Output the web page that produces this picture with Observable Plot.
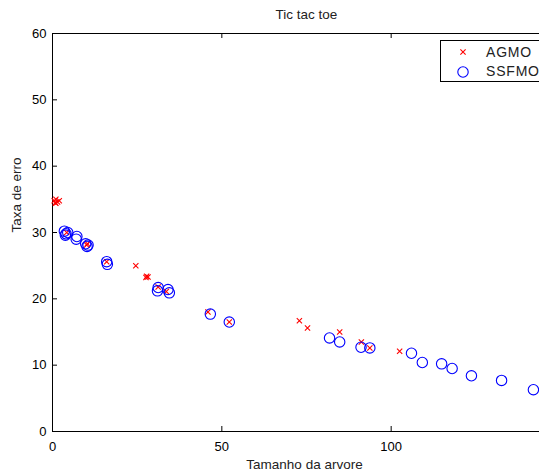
<!DOCTYPE html>
<html>
<head>
<meta charset="utf-8">
<script src="https://cdn.jsdelivr.net/npm/d3@7"></script>
<script src="https://cdn.jsdelivr.net/npm/@observablehq/plot@0.6"></script>
<style>
  html, body { margin: 0; padding: 0; background: white; }
  #wrap { width: 539px; height: 474px; overflow: hidden; position: relative; }
</style>
</head>
<body>
<div id="wrap"></div>
<script>
// ---- data ----
const agmoX = [0.5, 1.0, 1.5, 1.0, 2.0, 0.8, 4.2, 10.1, 10.3, 16.0, 24.6, 27.8, 28.2, 27.6, 31.2, 33.6, 45.9, 52.2, 72.9, 75.3, 84.8, 91.2, 93.7, 102.5];
const agmoY = [34.8, 35.0, 34.6, 34.4, 34.8, 34.5, 30.0, 28.1, 28.3, 25.6, 25.0, 23.4, 23.3, 23.2, 21.8, 21.1, 18.0, 16.5, 16.7, 15.6, 15.0, 13.5, 12.6, 12.1];
const ssfmoX = [3.5, 4.0, 4.5, 3.8, 7.2, 7.0, 9.8, 10.2, 10.5, 16.0, 16.2, 31.2, 31.0, 34.1, 34.5, 46.6, 52.2, 81.8, 84.8, 91.1, 93.7, 106.0, 109.2, 114.9, 118.0, 123.7, 132.6, 142.0];
const ssfmoY = [30.2, 29.8, 30.0, 29.6, 29.4, 29.0, 28.3, 27.9, 28.1, 25.6, 25.2, 21.7, 21.2, 21.4, 20.9, 17.7, 16.5, 14.1, 13.5, 12.7, 12.6, 11.8, 10.4, 10.2, 9.5, 8.4, 7.7, 6.3];
const xTicks = [0, 50, 100, 150];
const xTickLabels = [0, 50, 100];
const yTicks = [0, 10, 20, 30, 40, 50, 60];
const seriesNames = ["AGMO", "SSFMO"];
const titleText = "Tic tac toe";
const xLabel = "Tamanho da arvore";
const yLabel = "Taxa de erro";

const agmo = agmoX.map((x, i) => ({x, y: agmoY[i]}));
const ssfmo = ssfmoX.map((x, i) => ({x, y: ssfmoY[i]}));

const W = 561, H = 474, mL = 52, mR = 1, mT = 33, mB = 43;
const plotW = W - mL - mR, plotH = H - mT - mB;
const tick = 5;
const font = "'Liberation Sans', Arial, Helvetica, sans-serif";

const chart = Plot.plot({
  width: W, height: H,
  marginLeft: mL, marginRight: mR, marginTop: mT, marginBottom: mB,
  style: {fontFamily: font, fontSize: "13px", color: "black", background: "white", maxWidth: "none", overflow: "hidden"},
  x: {domain: [0, 150]},
  y: {domain: [0, 60]},
  marks: [
    Plot.frame({stroke: "black", strokeWidth: 1}),
    // inward ticks
    Plot.tickX(xTicks, {x: d => d, stroke: "black", insetTop: plotH - tick}),
    Plot.tickX(xTicks, {x: d => d, stroke: "black", insetBottom: plotH - tick}),
    Plot.tickY(yTicks, {y: d => d, stroke: "black", insetRight: plotW - tick}),
    Plot.tickY(yTicks, {y: d => d, stroke: "black", insetLeft: plotW - tick}),
    Plot.axisX({ticks: xTickLabels, tickSize: 0, tickPadding: 10, label: null, tickFormat: d => String(d), fontSize: 13}),
    Plot.axisY({ticks: yTicks, tickSize: 0, tickPadding: 6, label: null, tickFormat: d => String(d), fontSize: 13}),
    Plot.dot(agmo, {x: "x", y: "y", symbol: "times", r: 2.5, stroke: "#ff0000", strokeWidth: 1.1}),
    Plot.dot(ssfmo, {x: "x", y: "y", symbol: "circle", r: 5.2, stroke: "#0000ff", strokeWidth: 1.1, fill: "none"}),
    Plot.text([titleText], {frameAnchor: "top", dy: -19, lineAnchor: "middle", fontSize: 13.5, fill: "#222"}),
    Plot.text([xLabel], {frameAnchor: "bottom", dy: 33, dx: -2, lineAnchor: "middle", fontSize: 13.5, fill: "#222"}),
    Plot.text([yLabel], {frameAnchor: "left", dx: -36, rotate: -90, lineAnchor: "middle", fontSize: 13.5, fill: "#222"})
  ]
});

// legend box (inside the axes, top-right, as in the reference)
const svg = d3.select(chart);
const lg = svg.append("g").attr("font-family", font).attr("font-size", 14).attr("text-anchor", "start");
lg.append("rect").attr("x", 440.5).attr("y", 40.5).attr("width", 140).attr("height", 41)
  .attr("fill", "white").attr("stroke", "black").attr("stroke-width", 1);
lg.append("path").attr("transform", "translate(463,52)")
  .attr("d", d3.symbol(d3.symbolTimes, Math.PI * 2.5 * 2.5)())
  .attr("stroke", "#ff0000").attr("stroke-width", 1.1).attr("fill", "none");
lg.append("path").attr("transform", "translate(463,72)")
  .attr("d", d3.symbol(d3.symbolCircle, Math.PI * 5.2 * 5.2)())
  .attr("stroke", "#0000ff").attr("stroke-width", 1.1).attr("fill", "none");
seriesNames.forEach((name, i) => {
  lg.append("text").attr("x", 486).attr("y", 52 + i * 19.5).attr("dy", "0.35em")
    .attr("text-anchor", "start")
    .attr("letter-spacing", "0.8px").attr("fill", "#222").text(name);
});

document.getElementById("wrap").appendChild(chart);
</script>
</body>
</html>
